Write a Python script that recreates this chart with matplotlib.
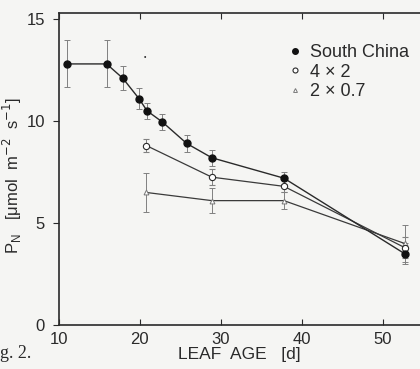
import numpy as np
import matplotlib.pyplot as plt

plt.rcParams['font.family'] = ['Liberation Sans', 'DejaVu Sans']

# leaf age [d]
age_sc = [11.0, 15.9, 17.9, 19.9, 20.9, 22.8, 25.8, 28.9, 37.8, 52.7]
pn_sc = [12.8, 12.8, 12.1, 11.1, 10.5, 9.95, 8.9, 8.2, 7.2, 3.5]
err_sc = [1.15, 1.15, 0.6, 0.5, 0.4, 0.4, 0.4, 0.4, 0.3, 0.5]

age_4x2 = [20.8, 28.9, 37.8, 52.7]
pn_4x2 = [8.8, 7.25, 6.8, 3.8]
err_4x2 = [0.3, 0.4, 0.3, 0.5]

age_2x07 = [20.8, 28.9, 37.8, 52.7]
pn_2x07 = [6.5, 6.1, 6.1, 4.0]
err_2x07 = [0.95, 0.6, 0.4, 0.9]

labels = ['South China', '4 \u00d7 2', '2 \u00d7 0.7']

ink = '#2a2a2a'
paper = '#f5f5f3'

fig = plt.figure(figsize=(4.2, 3.69), dpi=100, facecolor=paper)
ax = fig.add_axes([0.140, 0.119, 0.86, 0.846])
ax.set_facecolor(paper)

ekw = dict(elinewidth=0.7, capsize=2, capthick=0.7, ecolor='#808080')
ax.errorbar(age_2x07, pn_2x07, yerr=err_2x07, color='#3a3a3a', lw=0.9, marker='^',
            ms=3.5, mfc='white', mec='#777777', mew=0.7, label=labels[2], **ekw)
ax.errorbar(age_4x2, pn_4x2, yerr=err_4x2, color='#3a3a3a', lw=0.9, marker='o',
            ms=4.5, mfc='white', mec=ink, mew=0.8, label=labels[1], **ekw)
ax.errorbar(age_sc, pn_sc, yerr=err_sc, color=ink, lw=1.0, marker='o',
            ms=5, mfc='#111111', mec='#111111', label=labels[0], **ekw)

# small significance mark
ax.text(20.6, 13.1, '\u2022', fontsize=5, color=ink, ha='center', va='center')

ax.set_xlim(10, 54.6)
ax.set_ylim(0, 15.3)
ax.set_xticks([10, 20, 30, 40, 50])
ax.set_yticks([0, 5, 10, 15])

for side in ['left', 'bottom', 'top']:
    ax.spines[side].set_color(ink)
    ax.spines[side].set_linewidth(1.2)
ax.spines['right'].set_visible(False)

ax.tick_params(axis='x', direction='in', top=True, length=4, width=0.8,
               colors=ink, labelsize=12, pad=5)
ax.tick_params(axis='y', direction='out', length=4, width=0.8,
               colors=ink, labelsize=12, pad=6)

ax.set_xlabel('LEAF  AGE   [d]', fontsize=12.5, color=ink, labelpad=0)
ax.set_ylabel(r'P$_\mathregular{N}$   [$\mathregular{\mu}$mol  m$^{-2}$  s$^{-1}$]',
              fontsize=12, color=ink)
ax.yaxis.set_label_coords(-0.095, 0.48)

handles, labs = ax.get_legend_handles_labels()
order = [2, 1, 0]
leg = ax.legend([handles[i][0] for i in order], [labs[i] for i in order],
                loc='upper left', bbox_to_anchor=(0.625, 0.922), frameon=False,
                fontsize=13, handlelength=0.4, handletextpad=0.6,
                labelspacing=0.12, borderaxespad=0, markerscale=0.8)
for h in leg.legend_handles:
    h.set_linestyle('none')
for t in leg.get_texts():
    t.set_color(ink)

fig.text(0.0, 0.02, 'g. 2.', family='Liberation Serif', fontsize=13,
         color=ink, ha='left', va='bottom')

fig.savefig('out.png', dpi=100, facecolor=paper)
